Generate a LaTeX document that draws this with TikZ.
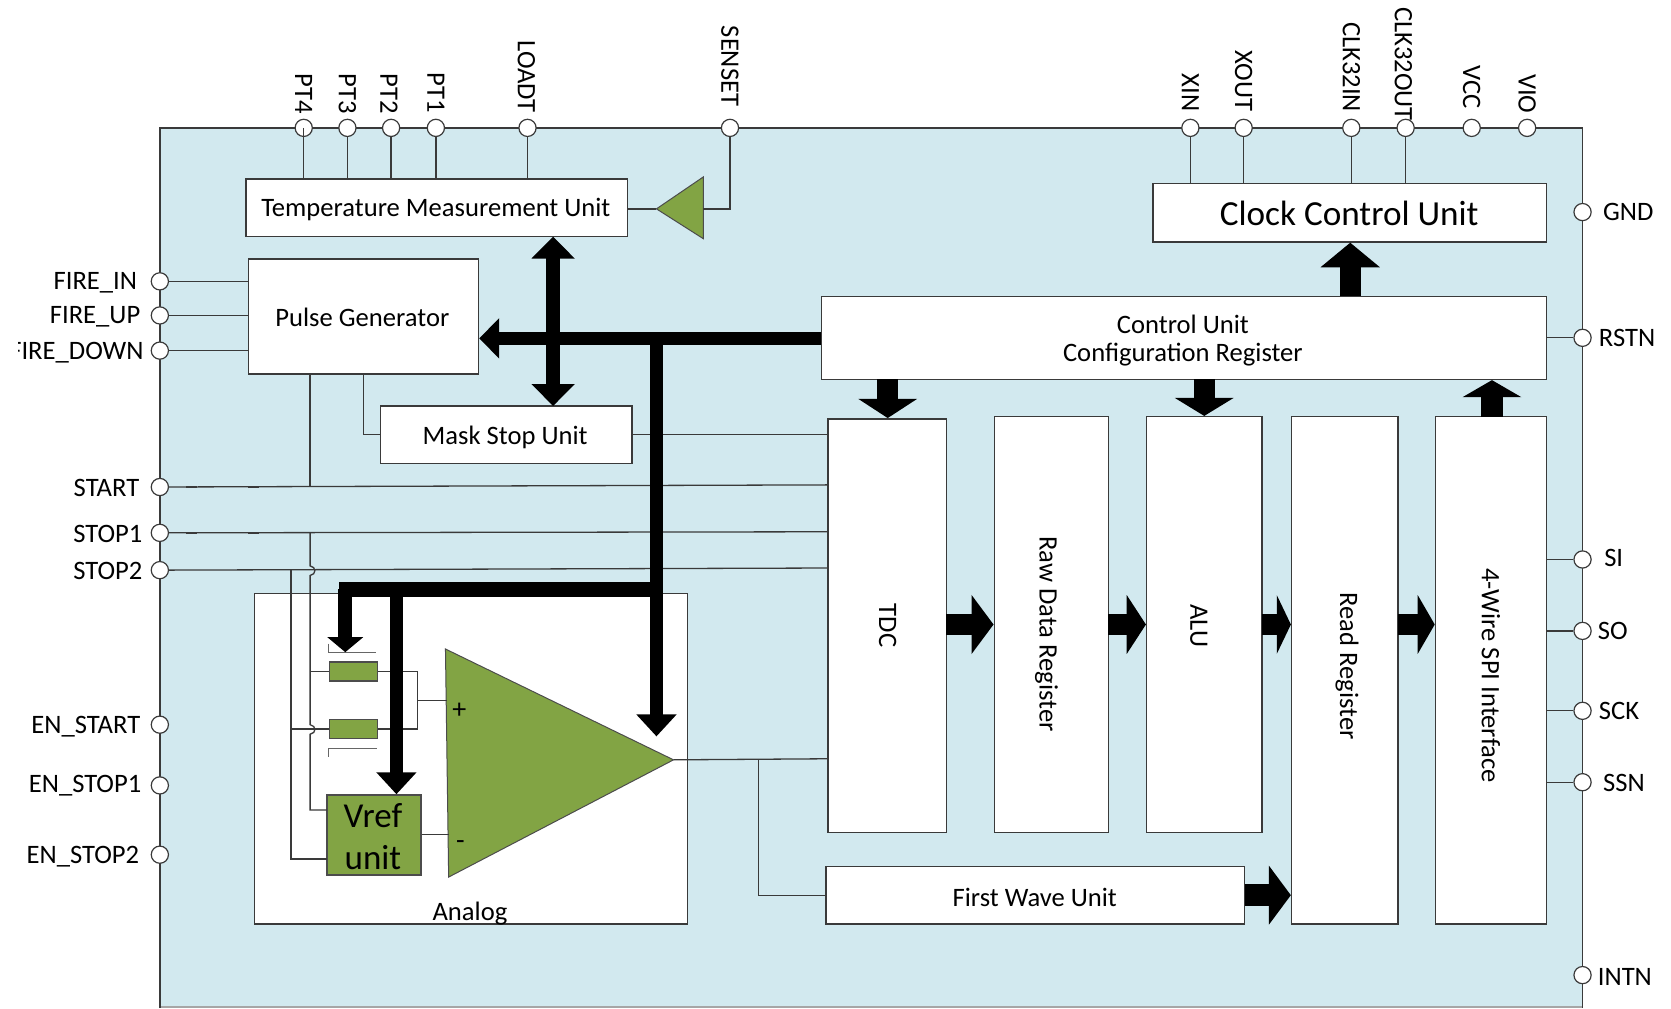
\documentclass[tikz,border=0pt]{standalone}
\usepackage{fontspec}
\setmainfont{Carlito}
\usetikzlibrary{arrows.meta,fit,shapes.geometric}
\definecolor{chipbg}{HTML}{D2E9EF}
\definecolor{ampgreen}{HTML}{82A444}
\definecolor{wire}{HTML}{3A3A3A}
\tikzset{
  txt/.style={font=\fontsize{13.3}{15}\selectfont,text=black,inner sep=0pt},
  pinlabel/.style={txt},
  toplabel/.style={txt,rotate=-90,anchor=center},
  rotlabel/.style={txt,rotate=-90,anchor=center},
  box/.style={draw=wire,fill=white,line width=0.75pt,inner sep=0pt,fit={#1}},
  gbox/.style={draw=black!70,fill=ampgreen,line width=0.75pt,inner sep=0pt,fit={#1}},
  pin/.style={circle,draw=wire,fill=white,line width=0.6pt,minimum size=8.6pt,inner sep=0pt},
  thin wire/.style={draw=wire,line width=0.65pt},
  sw/.style={draw=black!60,line width=0.6pt},
  buswire/.style={draw=black,line width=6.8pt},
  busA/.style={buswire,-{Triangle[width=19.7pt,length=10pt]}},
  busB/.style={buswire,{Triangle[width=21pt,length=11pt]}-{Triangle[width=21pt,length=11pt]}},
  busC/.style={buswire,-{Triangle[width=19.5pt,length=11pt]}},
  busD/.style={buswire,-{Triangle[width=17.5pt,length=7.5pt]}},
  blockarrow/.style={draw=black,line width=10.7pt,-{Triangle[width=29pt,length=#1]}},
}
\begin{document}
\begin{tikzpicture}[x=0.53284pt,y=-0.53284pt]
\clip (0,0) rectangle (1568,946);
\fill[white] (0,0) rectangle (1568,946);
% chip
\fill[chipbg] (150,120) rectangle (1485,945);
\draw[draw=black!35,line width=0.6pt] (150,945) -- (1485,945);
\draw[draw=wire,line width=0.75pt] (150,946) -- (150,120) -- (1485,120) -- (1485,946);

% blocks
\node[box={(231,168)(589,222)}] (temp) {};
\node[box={(233,243)(449,351)}] (pulse) {};
\node[box={(357,381)(593,435)}] (mask) {};
\node[box={(1082,172)(1451,227)}] (clock) {};
\node[box={(771,278)(1451,356)}] (ctrl) {};
\node[box={(777,393)(888,781)}] (tdc) {};
\node[box={(933,391)(1040,781)}] (raw) {};
\node[box={(1076,391)(1184,781)}] (alu) {};
\node[box={(1212,391)(1312,867)}] (read) {};
\node[box={(1347,391)(1451,867)}] (spi) {};
\node[box={(775,813)(1168,867)}] (fw) {};
\node[box={(239,557)(645,867)}] (analog) {};
\node[txt] (templ) at (409,197) {Temperature Measurement Unit};
\node[txt] (pulsel) at (340,298) {Pulse Generator};
\node[txt] (maskl) at (474,410) {Mask Stop Unit};
\node[txt,font=\fontsize{17.6}{20}\selectfont] (clockl) at (1266,200) {Clock Control Unit};
\node[txt] (ctrla) at (1110,304) {Control Unit};
\node[txt] (ctrlb) at (1110,333) {Configuration Register};
\node[txt] (fwl) at (971,842) {First Wave Unit};
\node[txt] (analogl) at (441,857) {Analog};
\node[rotlabel] (tdcl) at (833,587) {TDC};
\node[rotlabel] (rawl) at (982,595) {Raw Data Register};
\node[rotlabel] (alul) at (1125,587) {ALU};
\node[rotlabel] (readl) at (1264,625) {Read Register};
\node[rotlabel] (spil) at (1399,634) {4-Wire SPI Interface};

% green parts
\coordinate (bufT) at (616,196);
\coordinate (bufA) at (660,166);
\coordinate (bufB) at (660,224);
\coordinate (bufIn) at (660,196);
\draw[draw=black!70,fill=ampgreen,line width=0.5pt] (bufT) -- (bufA) -- (bufB) -- cycle;
\coordinate (ampA) at (418,609);
\coordinate (ampB) at (421,823);
\coordinate (ampT) at (632,713);
\coordinate (ampP) at (419,657);
\coordinate (ampN) at (421,783);
\draw[draw=black!70,fill=ampgreen,line width=0.5pt] (ampA) -- (ampT) -- (ampB) -- cycle;
\node[txt,font=\fontsize{14}{14}\selectfont] (plus) at (431,667) {+};
\node[txt,font=\fontsize{14}{14}\selectfont] (minus) at (432,793) {-};
\node[gbox={(307,746)(395,821)}] (vref) {};
\node[txt,font=\fontsize{17.5}{20}\selectfont] (vrefa) at (350,765) {Vref};
\node[txt,font=\fontsize{17.5}{20}\selectfont] (vrefb) at (350,805) {unit};
\node[gbox={(309,621)(354,639)}] (res1) {};
\node[gbox={(309,675)(354,693)}] (res2) {};

% pins top
\foreach \n/\x in {pa/285,pb/326,pc/367,pd/409,loadt/495,senset/685,xin/1117,xout/1167,ckin/1268,ckout/1319,vcc/1381,vio/1433}
  \node[pin] (\n) at (\x,120) {};
% pins left
\foreach \n/\y in {firein/264,fireup/296,firedn/329,start/457,stopa/500,stopb/535,enstart/680,enstopa/737,enstopb/802}
  \node[pin] (\n) at (150,\y) {};
% pins right
\foreach \n/\y in {gnd/199,rstn/317,si/525,so/592,sck/667,ssn/734,intn/915}
  \node[pin] (\n) at (1485,\y) {};

% labels
\foreach \t/\x/\y in {PT4/285/88,PT3/326/88,PT2/365/88,PT1/409/87,LOADT/494/72,SENSET/685/62,XIN/1117/87,XOUT/1167/76,CLK32IN/1268/63,CLK32OUT/1317/60,VCC/1381/82,VIO/1433/88}
  \node[toplabel] (l\t) at (\x,\y) {\t};
\foreach \t/\x/\y in {FIRE\_IN/129/265,FIRE\_UP/132/297,FIRE\_DOWN/135/331,START/131/458,STOP1/134/501,STOP2/134/536,EN\_START/132/682,EN\_STOP1/133/737,EN\_STOP2/131/804}
  \node[pinlabel,anchor=east] at (\x,\y) {\t};
\fill[white] (0,300) rectangle (17,360);
\foreach \t/\x/\y in {GND/1504/199,RSTN/1500/317,SI/1505/524,SO/1499/592,SCK/1500/667,SSN/1504/735,INTN/1499/917}
  \node[pinlabel,anchor=west] at (\x,\y) {\t};

% thin wires: top
\draw[thin wire] (pa.center) -- (pa |- temp.north);
\foreach \p in {pb,pc,pd,loadt}
  \draw[thin wire] (\p) -- (\p |- temp.north);
\draw[thin wire] (senset) |- (bufIn);
\draw[thin wire] (bufT) -- (bufT -| temp.east);
\foreach \p in {xin,xout,ckin,ckout}
  \draw[thin wire] (\p) -- (\p |- clock.north);
% left
\foreach \p in {firein,fireup,firedn}
  \draw[thin wire] (\p) -- (\p -| pulse.west);
\coordinate (startE) at (777,455);
\coordinate (stopaE) at (777,499);
\coordinate (stopbE) at (777,533);
\draw[thin wire] (start) -- (startE);
\draw[thin wire] (stopa) -- (stopaE);
\draw[thin wire] (stopb) -- (stopbE);
\foreach \x/\y in {175/457,233/457,175/500,233/500}
  \draw[draw=wire,line width=1pt] (\x,\y) -- +(10,0);
\coordinate (pg1) at (291,351);
\coordinate (pg1b) at (291,457);
\draw[thin wire] (pg1) -- (pg1b);
\coordinate (pg2) at (341,351);
\coordinate (mkL) at (357,408);
\draw[thin wire] (pg2) |- (mkL);
\coordinate (mkR) at (593,408);
\draw[thin wire] (mkR) -- (mkR -| tdc.west);
% stop1 feed with hops
\coordinate (v0) at (291,500);
\coordinate (v1) at (291,531);
\coordinate (v2) at (291,540);
\coordinate (v3) at (291,680);
\coordinate (v4) at (291,689);
\coordinate (v5) at (307,760);
\draw[thin wire] (v0) -- (v1) .. controls (297,532) and (297,539) .. (v2) -- (v3) .. controls (297,681) and (297,688) .. (v4) |- (v5);
\draw[thin wire] (v0 |- res1.west) -- (res1.west);
% stop2 feed
\coordinate (w0) at (273,535);
\coordinate (w1) at (307,806);
\draw[thin wire] (w0) |- (w1);
\draw[thin wire] (w0 |- res2.west) -- (res2.west);
% resistors merge
\coordinate (mg) at (392,657);
\draw[thin wire] (res1.east) -| (mg) |- (res2.east);
\draw[thin wire] (mg) -- (ampP);
\draw[thin wire] (vref.east |- ampN) -- (ampN);
% switch marks
\coordinate (swa) at (308,604);
\coordinate (swb) at (353,612);
\coordinate (swc) at (308,710);
\coordinate (swd) at (354,702);
\draw[sw] (swa) |- (swb);
\draw[sw] (swc) |- (swd);
% output
\coordinate (outE) at (777,712);
\coordinate (jn) at (712,713);
\draw[thin wire] (ampT) -- (outE);
\draw[thin wire] (jn) |- (fw.west);
% right
\foreach \p in {rstn,si,so,sck,ssn}
  \draw[thin wire] (\p) -- (\p -| ctrl.east);

% buses
\coordinate (bus) at (771,317.5);
\coordinate (busv) at (616,317.5);
\coordinate (ampArrow) at (616,691);
\coordinate (busTee) at (616,553);
\coordinate (busL) at (324,553);
\coordinate (swArrow) at (324,612);
\coordinate (vTee) at (372,553);
\coordinate (dblT) at (519,222);
\coordinate (dblB) at (519,381);
\draw[busA] (ctrl.west |- bus) -- (bus -| pulse.east);
\draw[busB] (dblT) -- (dblB);
\draw[busC] (busv) -- (ampArrow);
\draw[buswire,line width=7.4pt] (busTee) -- (318,553);
\draw[busD] (324,553) -- (swArrow);
\draw[busC] (vTee) -- (vTee |- vref.north);

% block arrows
\coordinate (ckA) at (1267,278);
\draw[blockarrow=12.3pt] (ckA) -- (ckA |- clock.south);
\coordinate (cA) at (833,356);
\draw[blockarrow=9.6pt] (cA) -- (cA |- tdc.north);
\coordinate (cB) at (1130,356);
\draw[blockarrow=9pt] (cB) -- (cB |- alu.north);
\coordinate (cC) at (1400,391);
\draw[blockarrow=8.5pt] (cC) -- (cC |- ctrl.south);
\coordinate (rA) at (888,586);
\draw[blockarrow=11pt] (rA) -- (rA -| raw.west);
\coordinate (rB) at (1040,586);
\draw[blockarrow=9.6pt] (rB) -- (rB -| alu.west);
\coordinate (rC) at (1184,586);
\draw[blockarrow=7pt] (rC) -- (rC -| read.west);
\coordinate (rD) at (1312,586);
\draw[blockarrow=8.5pt] (rD) -- (rD -| spi.west);
\coordinate (rE) at (1168,840);
\draw[blockarrow=11pt] (rE) -- (rE -| read.west);
\end{tikzpicture}
\end{document}
